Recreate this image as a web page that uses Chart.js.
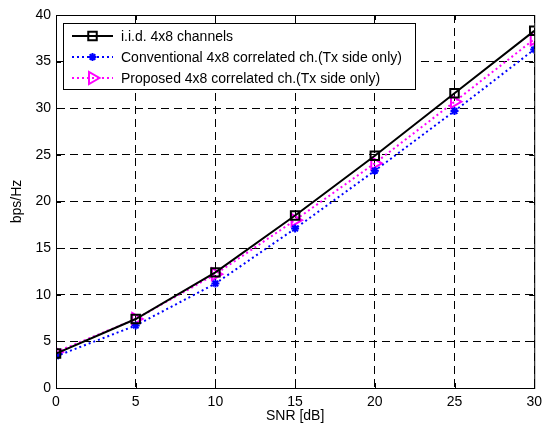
<!DOCTYPE html>
<html>
<head>
<meta charset="utf-8">
<script src="https://cdn.jsdelivr.net/npm/chart.js@4.4.1/dist/chart.umd.min.js"></script>
<style>
  html, body { margin: 0; padding: 0; background: #fff; }
  #c { display: block; }
</style>
</head>
<body>
<canvas id="c" width="548" height="429"></canvas>
<script>
let snr = [0, 5, 10, 15, 20, 25, 30];
let iid = [3.7, 7.4, 12.4, 18.5, 24.9, 31.6, 38.3];
let conv = [3.4, 6.7, 11.2, 17.1, 23.3, 29.7, 36.3];
let prop = [3.85, 7.4, 12.2, 18.0, 24.1, 30.7, 37.4];
let names = [
  'i.i.d. 4x8 channels',
  'Conventional 4x8 correlated ch.(Tx side only)',
  'Proposed 4x8 correlated ch.(Tx side only)'
];
let xTicks = [0, 5, 10, 15, 20, 25, 30];
let yTicks = [0, 5, 10, 15, 20, 25, 30, 35, 40];

let font = 'Arial, "Liberation Sans", sans-serif';
let dash = [8, 5];

function pts(ys) {
  return snr.map((x, i) => ({x: x, y: ys[i]}));
}

// box around plot + small inner ticks, matlab style
let boxPlugin = {
  id: 'box',
  afterDraw(chart) {
    let a = chart.chartArea;
    let ctx = chart.ctx;
    ctx.save();
    ctx.strokeStyle = '#000';
    ctx.lineWidth = 1;
    ctx.setLineDash([]);
    ctx.strokeRect(a.left + 0.5, a.top + 0.5, a.right - a.left, a.bottom - a.top);
    ctx.beginPath();
    xTicks.forEach(v => {
      let px = Math.round(chart.scales.x.getPixelForValue(v)) + 0.5;
      ctx.moveTo(px, a.bottom); ctx.lineTo(px, a.bottom - 5);
      ctx.moveTo(px, a.top); ctx.lineTo(px, a.top + 5);
    });
    yTicks.forEach(v => {
      let py = Math.round(chart.scales.y.getPixelForValue(v)) + 0.5;
      ctx.moveTo(a.left, py); ctx.lineTo(a.left + 5, py);
      ctx.moveTo(a.right, py); ctx.lineTo(a.right - 5, py);
    });
    ctx.stroke();
    ctx.restore();
  }
};

// legend box inside the axes, top left
let legendPlugin = {
  id: 'inlegend',
  afterDraw(chart) {
    let ctx = chart.ctx;
    let a = chart.chartArea;
    let bx = a.left + 7, by = a.top + 8, bw = 352, bh = 66;
    ctx.save();
    ctx.fillStyle = '#fff';
    ctx.fillRect(bx, by, bw, bh);
    ctx.strokeStyle = '#000';
    ctx.lineWidth = 1;
    ctx.setLineDash([]);
    ctx.strokeRect(bx + 0.5, by + 0.5, bw, bh);
    ctx.font = '14px ' + font;
    ctx.textBaseline = 'middle';
    chart.data.datasets.forEach((ds, i) => {
      let y = by + 13 + i * 21;
      let x0 = bx + 9, x1 = bx + 50;
      ctx.strokeStyle = ds.borderColor;
      ctx.lineWidth = ds.borderWidth;
      ctx.setLineDash(ds.borderDash || []);
      ctx.beginPath();
      ctx.moveTo(x0, y); ctx.lineTo(x1, y);
      ctx.stroke();
      ctx.setLineDash([]);
      ctx.strokeStyle = ds.pointBorderColor;
      ctx.fillStyle = ds.pointBackgroundColor;
      ctx.lineWidth = ds.pointBorderWidth;
      Chart.helpers.drawPoint(ctx, {
        pointStyle: ds.pointStyle,
        rotation: ds.pointRotation || 0,
        radius: ds.pointRadius,
        borderWidth: ds.pointBorderWidth
      }, (x0 + x1) / 2, y);
      ctx.fillStyle = '#000';
      ctx.fillText(names[i], bx + 58, y + 1);
    });
    ctx.restore();
  }
};

let ctx = document.getElementById('c');
let chart = new Chart(ctx, {
  type: 'line',
  data: {
    datasets: [{
      label: names[0],
      data: pts(iid),
      borderColor: '#000',
      backgroundColor: 'rgba(0,0,0,0)',
      borderWidth: 2,
      pointStyle: 'rect',
      pointRadius: 6,
      pointBorderWidth: 2,
      pointBorderColor: '#000',
      pointBackgroundColor: 'rgba(0,0,0,0)'
    }, {
      label: names[1],
      data: pts(conv),
      borderColor: '#0000ff',
      backgroundColor: '#0000ff',
      borderWidth: 2,
      borderDash: [2, 3],
      pointStyle: 'star',
      pointRadius: 4,
      pointBorderWidth: 2,
      pointBorderColor: '#0000ff',
      pointBackgroundColor: '#0000ff'
    }, {
      label: names[2],
      data: pts(prop),
      borderColor: '#ff00ff',
      backgroundColor: 'rgba(0,0,0,0)',
      borderWidth: 2,
      borderDash: [2, 3],
      pointStyle: 'triangle',
      pointRotation: 90,
      pointRadius: 7,
      pointBorderWidth: 2,
      pointBorderColor: '#ff00ff',
      pointBackgroundColor: 'rgba(0,0,0,0)'
    }]
  },
  options: {
    responsive: false,
    animation: false,
    layout: { padding: { top: 15, right: 11, left: 0, bottom: 4 } },
    plugins: {
      legend: { display: false },
      tooltip: { enabled: false }
    },
    scales: {
      x: {
        type: 'linear',
        min: 0, max: 30,
        afterFit(s) { s.height = 37; },
        afterBuildTicks(s) { s.ticks = xTicks.map(v => ({value: v})); },
        grid: { color: '#000', lineWidth: 1, drawTicks: false },
        border: { color: '#000', dash: dash },
        ticks: { color: '#000', padding: 6, font: { family: font, size: 14 }, maxRotation: 0 },
        title: { display: true, text: 'SNR [dB]', color: '#000', padding: { top: 0, bottom: 0 }, font: { family: font, size: 14 } }
      },
      y: {
        type: 'linear',
        min: 0, max: 40,
        afterFit(s) { s.width = 56; },
        afterBuildTicks(s) { s.ticks = yTicks.map(v => ({value: v})); },
        grid: { color: '#000', lineWidth: 1, drawTicks: false },
        border: { color: '#000', dash: dash },
        ticks: { color: '#000', padding: 5, font: { family: font, size: 14 } },
        title: { display: true, text: 'bps/Hz', color: '#000', padding: { top: 9, bottom: 0 }, font: { family: font, size: 14 } }
      }
    }
  },
  plugins: [boxPlugin, legendPlugin]
});
</script>
</body>
</html>
